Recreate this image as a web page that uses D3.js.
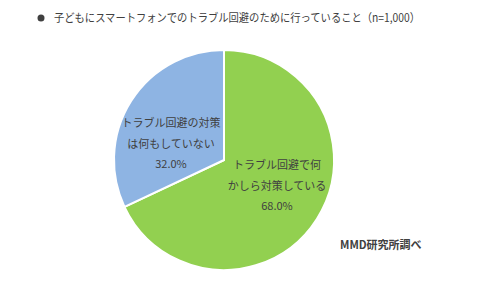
<!DOCTYPE html>
<html>
<head>
<meta charset="utf-8">
<script src="https://cdn.jsdelivr.net/npm/d3@7"></script>
<style>
  body { margin: 0; background: #fff; }
  text { font-family: "Noto Sans CJK JP", "Noto Sans", sans-serif; fill: #404040; }
</style>
</head>
<body>
<svg id="chart" width="480" height="288"></svg>
<script>
// data
var labels = [["トラブル回避で何", "かしら対策している"], ["トラブル回避の対策", "は何もしていない"]];
var values = [68.0, 32.0];
var colors = ["#92d050", "#8eb4e3"];
var title = "子どもにスマートフォンでのトラブル回避のために行っていること（n=1,000）";
var source = "MMD研究所調べ";

var svg = d3.select("#chart");
var cx = 224, cy = 160, r = 110;

// title
svg.append("circle").attr("cx", 41).attr("cy", 18).attr("r", 3.5).attr("fill", "#404040");
svg.append("text").attr("x", 54).attr("y", 22).attr("font-size", 11.5)
  .attr("textLength", 366).attr("lengthAdjust", "spacingAndGlyphs").text(title);

var pie = d3.pie().sort(null).value(function (d) { return d; });
var arc = d3.arc().innerRadius(0).outerRadius(r);
var arcs = pie(values);

var g = svg.append("g").attr("transform", "translate(" + cx + "," + cy + ")");
g.selectAll("path").data(arcs).enter().append("path")
  .attr("d", arc)
  .attr("fill", function (d, i) { return colors[i]; })
  .attr("stroke", "#fff")
  .attr("stroke-width", 2);

// slice labels
var labelPos = [[53, 9], [-53, -33]];
arcs.forEach(function (d, i) {
  var t = g.append("text")
    .attr("text-anchor", "middle")
    .attr("font-size", 11)
    .attr("x", labelPos[i][0]).attr("y", labelPos[i][1]);
  labels[i].forEach(function (line, k) {
    t.append("tspan").attr("x", labelPos[i][0]).attr("dy", k === 0 ? 0 : 20.5).text(line);
  });
  t.append("tspan").attr("x", labelPos[i][0]).attr("dy", 20.5).text(values[i].toFixed(1) + "%");
});

svg.append("text").attr("x", 340).attr("y", 249).attr("font-size", 11)
  .attr("font-weight", "bold").attr("fill", "#595959").text(source);
</script>
</body>
</html>
